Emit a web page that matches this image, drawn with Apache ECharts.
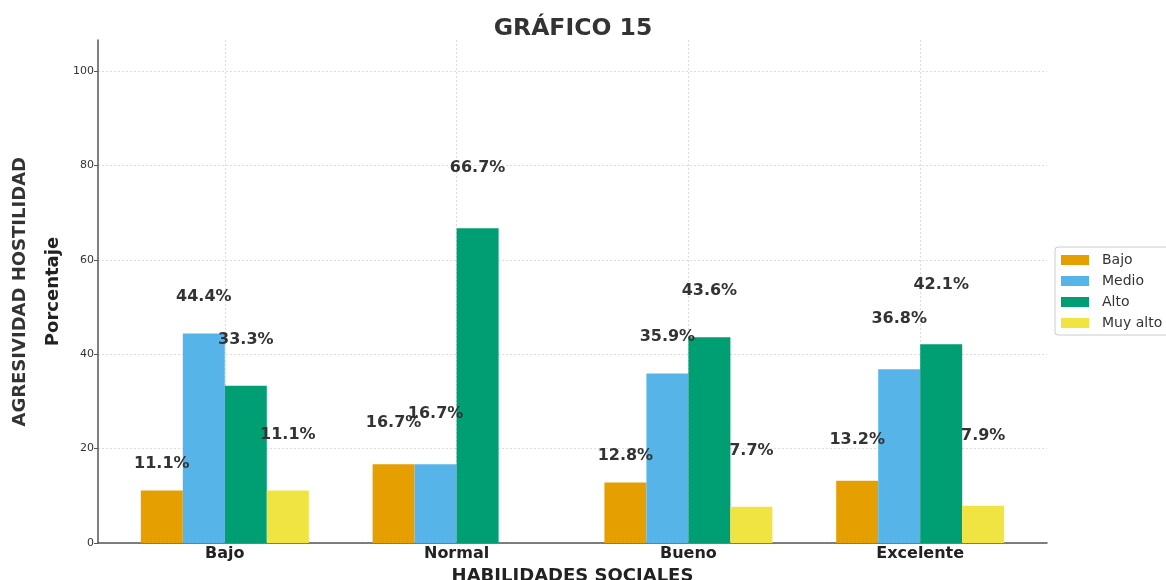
<!DOCTYPE html>
<html>
<head>
<meta charset="utf-8">
<script src="https://cdn.jsdelivr.net/npm/echarts@6/dist/echarts.min.js"></script>
<style>
  html, body { margin: 0; padding: 0; background: #fff; }
  #main { width: 1166px; height: 580px; }
</style>
</head>
<body>
<div id="main"></div>
<script>
// categories on the x axis
var categories = ['Bajo', 'Normal', 'Bueno', 'Excelente'];
var seriesNames = ['Bajo', 'Medio', 'Alto', 'Muy alto'];
// percentages per level (one array per series)
var bajo = [11.1, 16.7, 12.8, 13.2];
var medio = [44.4, 16.7, 35.9, 36.8];
var alto = [33.3, 66.7, 43.6, 42.1];
var muyAlto = [11.1, 0, 7.7, 7.9];
var yTicks = [0, 20, 40, 60, 80, 100];

var colors = ['#E69F00', '#56B4E9', '#009E73', '#F0E442'];
var allValues = [bajo, medio, alto, muyAlto];

var series = allValues.map(function (vals, i) {
    return {
        name: seriesNames[i],
        type: 'bar',
        barWidth: 42,
        barGap: '0%',
        itemStyle: { color: colors[i] },
        data: vals.map(function (v, c) {
            return {
                value: [c, v],
                label: { distance: 19 + 9.5 * i + (c % 2 ? 14 : 0) }
            };
        }),
        label: {
            show: true,
            position: 'top',
            fontFamily: 'DejaVu Sans',
            fontWeight: 'bold',
            fontSize: 16,
            color: '#333',
            formatter: function (p) {
                return p.value[1] ? p.value[1].toFixed(1) + '%' : '';
            }
        }
    };
});

var chart = echarts.init(document.getElementById('main'));
chart.setOption({
    animation: false,
    textStyle: { fontFamily: 'DejaVu Sans' },
    title: {
        text: 'GRÁFICO 15',
        left: 568,
        top: 12,
        textAlign: 'center',
        textStyle: { fontSize: 23.5, fontWeight: 'bold', color: '#333', fontFamily: 'DejaVu Sans' }
    },
    legend: {
        orient: 'vertical',
        left: 1055,
        top: 247,
        data: seriesNames,
        icon: 'rect',
        itemWidth: 28,
        itemHeight: 10,
        itemGap: 7,
        padding: [6, 8, 5, 6],
        borderColor: '#ccc',
        borderWidth: 1,
        borderRadius: 3,
        textStyle: { fontSize: 14, color: '#333', padding: [0, 0, 0, 8] }
    },
    grid: { left: 98, right: 119, top: 40, bottom: 37, outerBoundsMode: 'none' },
    xAxis: {
        type: 'value',
        min: -0.547,
        max: 3.547,
        name: 'HABILIDADES SOCIALES',
        nameLocation: 'middle',
        nameGap: 21,
        nameTextStyle: { fontSize: 18, fontWeight: 'bold', color: '#222' },
        axisLine: { lineStyle: { color: '#555', width: 1.5 } },
        axisTick: { show: false, customValues: [0, 1, 2, 3] },
        axisLabel: {
            customValues: [0, 1, 2, 3],
            fontSize: 16,
            fontWeight: 'bold',
            color: '#222',
            margin: 3,
            formatter: function (v) { return categories[Math.round(v)]; }
        },
        splitLine: { show: true, lineStyle: { color: '#ddd', type: [2, 2] } }
    },
    yAxis: {
        type: 'value',
        min: 0,
        max: 106.6,
        interval: 20,
        name: 'Porcentaje',
        nameLocation: 'middle',
        nameGap: 27,
        nameTextStyle: { fontSize: 18, fontWeight: 'bold', color: '#222' },
        axisLine: { show: true, onZero: false, lineStyle: { color: '#555', width: 1.5 } },
        axisTick: { show: true, length: 4, lineStyle: { color: '#555' } },
        axisLabel: {
            showMaxLabel: false,
            fontSize: 11,
            color: '#333',
            margin: 4,
            formatter: function (v) { return yTicks.indexOf(v) >= 0 ? String(v) : ''; }
        },
        splitLine: { show: true, showMaxLine: false, lineStyle: { color: '#ddd', type: [2, 2] } }
    },
    graphic: [{
        type: 'text',
        left: 11,
        top: 157,
        rotation: Math.PI / 2,
        style: {
            text: 'AGRESIVIDAD HOSTILIDAD',
            fontSize: 18,
            fontWeight: 'bold',
            fill: '#333',
            fontFamily: 'DejaVu Sans'
        }
    }],
    series: series
});
</script>
</body>
</html>
